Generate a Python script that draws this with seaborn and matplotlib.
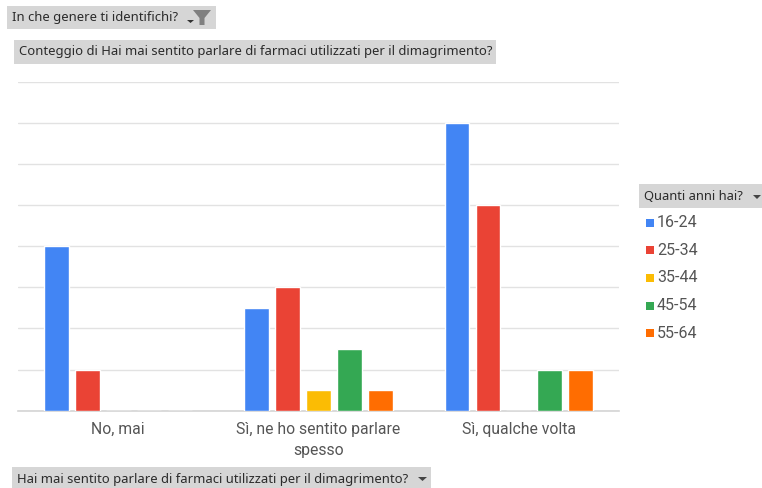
import matplotlib
matplotlib.use("Agg")
import matplotlib.pyplot as plt
from matplotlib.patches import Rectangle, Polygon
import pandas as pd
import seaborn as sns

answers = ["No, mai", "Sì, ne ho sentito parlare\nspesso", "Sì, qualche volta"]
age_groups = ["16-24", "25-34", "35-44", "45-54", "55-64"]
counts_16_24 = [4, 2.5, 7]
counts_25_34 = [1, 3, 5]
counts_35_44 = [0, 0.5, 0]
counts_45_54 = [0, 1.5, 1]
counts_55_64 = [0, 0.5, 1]
palette = ["#4285F4", "#EA4335", "#FBBC04", "#34A853", "#FF6D01"]

W, H = 762, 488
sns.set_theme(style="white")
plt.rcParams["font.family"] = ["Noto Sans", "DejaVu Sans"]

rows = []
for group, series in zip(age_groups, [counts_16_24, counts_25_34, counts_35_44, counts_45_54, counts_55_64]):
    for answer, value in zip(answers, series):
        rows.append({"answer": answer, "age": group, "count": value})
df = pd.DataFrame(rows)

fig = plt.figure(figsize=(W / 100, H / 100), dpi=100, facecolor="white")
ax = fig.add_axes([18 / W, 1 - 410.6 / H, 601 / W, 328.5 / H])
sns.barplot(data=df, x="answer", y="count", hue="age", hue_order=age_groups,
            palette=palette, saturation=1, width=0.77, gap=0.2, errorbar=None,
            legend=False, ax=ax, zorder=3)
ax.set_xlim(-0.5, 2.5)
ax.set_ylim(0, 8)
ax.set_yticks(range(9))
ax.set_yticklabels([])
ax.set_xlabel("")
ax.set_ylabel("")
ax.grid(axis="y", color="#e2e2e2", linewidth=1)
ax.set_axisbelow(True)
for side in ["top", "left", "right"]:
    ax.spines[side].set_visible(False)
ax.spines["bottom"].set_color("#d4d4d4")
ax.spines["bottom"].set_linewidth(1.2)
ax.tick_params(axis="x", length=0, pad=8, labelsize=11.3, labelcolor="#555555")
ax.tick_params(axis="y", length=0)
for tick in ax.get_xticklabels():
    tick.set_family("Roboto")
    tick.set_linespacing(1.5)


def px_rect(x0, y0, x1, y1, color):
    fig.add_artist(Rectangle((x0 / W, 1 - y1 / H), (x1 - x0) / W, (y1 - y0) / H,
                             transform=fig.transFigure, facecolor=color, edgecolor="none"))


def px_poly(points, color):
    fig.add_artist(Polygon([(x / W, 1 - y / H) for x, y in points], closed=True,
                           transform=fig.transFigure, facecolor=color, edgecolor="none"))


def px_text(x, y, text, size=9.4, color="#2b2b2b", family="Noto Sans"):
    fig.text(x / W, 1 - y / H, text, fontsize=size, color=color, ha="left", va="center",
             family=family)


# Pivot-table style field buttons around the chart
px_rect(7, 6, 216, 29, "#d6d6d6")
px_text(12, 18, "In che genere ti identifichi?")
px_poly([(187, 20), (194, 20), (190.5, 23)], "#333333")
px_poly([(193, 10), (211, 10), (204.5, 18), (204.5, 25), (199.5, 25), (199.5, 18)], "#808080")

px_rect(14, 40, 496, 64, "#d6d6d6")
px_text(19, 52, "Conteggio di Hai mai sentito parlare di farmaci utilizzati per il dimagrimento?")

px_rect(12, 467, 431, 488, "#d6d6d6")
px_text(17, 479, "Hai mai sentito parlare di farmaci utilizzati per il dimagrimento?")
px_poly([(418, 477), (427, 477), (422.5, 481)], "#444444")

# Age-group key on the right
px_rect(639, 184, 762, 208, "#d6d6d6")
px_text(644, 197, "Quanti anni hai?", size=9.3)
px_poly([(753, 195), (761, 195), (757, 199)], "#444444")
for i, (group, color) in enumerate(zip(age_groups, palette)):
    y = 222.5 + i * 27.7
    px_rect(646, y - 4, 654, y + 4, color)
    px_text(657, y, group, size=11.5, color="#555555", family="Roboto")

fig.savefig("out.png", dpi=100)
